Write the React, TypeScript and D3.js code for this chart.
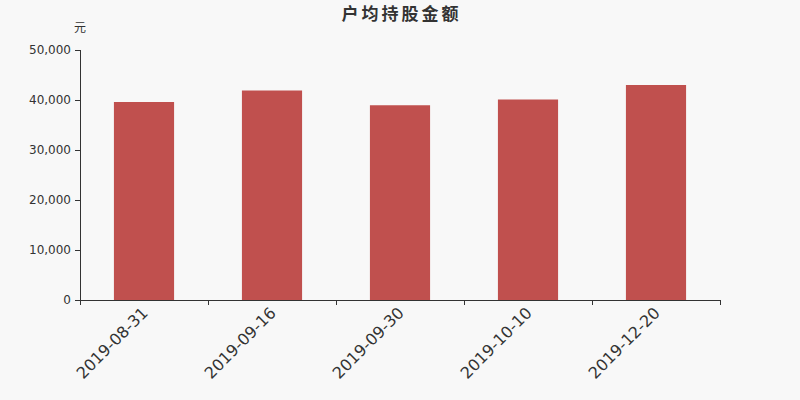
import * as d3 from "d3";
import { useEffect, useRef } from "react";

const categories = ["2019-08-31", "2019-09-16", "2019-09-30", "2019-10-10", "2019-12-20"];
const values = [39600, 41900, 38950, 40100, 43000];
const yTicks = [0, 10000, 20000, 30000, 40000, 50000];

const width = 800;
const height = 400;
const margin = { top: 50, right: 80, bottom: 100, left: 80 };

const App = () => {
  const svgRef = useRef<SVGSVGElement | null>(null);

  useEffect(() => {
    const svg = d3.select(svgRef.current);
    svg.selectAll("*").remove();

    const innerWidth = width - margin.left - margin.right;
    const innerHeight = height - margin.top - margin.bottom;

    svg.append("rect").attr("width", width).attr("height", height).attr("fill", "#f8f8f8");

    const x = d3.scaleBand().domain(categories).range([0, innerWidth]);
    const y = d3.scaleLinear().domain([0, 50000]).range([innerHeight, 0]);
    const barWidth = x.bandwidth() * 0.47;

    const g = svg.append("g").attr("transform", `translate(${margin.left},${margin.top})`);

    // bars
    g.selectAll("rect.bar")
      .data(values)
      .enter()
      .append("rect")
      .attr("class", "bar")
      .attr("x", (_, i) => (x(categories[i]) ?? 0) + x.bandwidth() / 2 - barWidth / 2)
      .attr("y", d => y(d))
      .attr("width", barWidth)
      .attr("height", d => innerHeight - y(d))
      .attr("fill", "#c0504e");

    // y axis
    const yAxis = g.append("g")
      .call(d3.axisLeft(y).tickValues(yTicks).tickSize(5).tickPadding(4).tickFormat(d3.format(",")));
    yAxis.select(".domain").attr("stroke", "#333").attr("d", `M0.5,0V${innerHeight}`);
    yAxis.selectAll(".tick line").attr("stroke", "#333");
    yAxis.selectAll(".tick text")
      .attr("fill", "#333")
      .style("font-family", "'DejaVu Sans', sans-serif")
      .style("font-size", "12px");

    // x axis
    const xAxis = g.append("g").attr("transform", `translate(0,${innerHeight})`);
    xAxis.append("path")
      .attr("d", `M0,0.5H${innerWidth}`)
      .attr("stroke", "#333");
    const bounds = categories.map(c => x(c) ?? 0).concat([innerWidth]);
    xAxis.selectAll("line.tk")
      .data(bounds)
      .enter()
      .append("line")
      .attr("class", "tk")
      .attr("x1", d => Math.round(d) + 0.5)
      .attr("x2", d => Math.round(d) + 0.5)
      .attr("y1", 0)
      .attr("y2", 5)
      .attr("stroke", "#333");
    xAxis.selectAll("text.lbl")
      .data(categories)
      .enter()
      .append("text")
      .attr("class", "lbl")
      .attr("transform", d => `translate(${(x(d) ?? 0) + x.bandwidth() / 2 + 1},${10}) rotate(-45)`)
      .attr("text-anchor", "end")
      .attr("dy", "0.35em")
      .attr("fill", "#333")
      .style("font-family", "'DejaVu Sans', sans-serif")
      .style("font-size", "16px")
      .text(d => d);

    // unit
    svg.append("text")
      .attr("x", margin.left)
      .attr("y", 32)
      .attr("text-anchor", "middle")
      .attr("fill", "#333")
      .style("font-family", "'Noto Sans CJK SC', sans-serif")
      .style("font-size", "12px")
      .text("元");

    // title
    svg.append("text")
      .attr("x", width / 2 + 1.5)
      .attr("y", 20)
      .attr("text-anchor", "middle")
      .attr("fill", "#333")
      .style("font-family", "'Noto Sans CJK SC', sans-serif")
      .style("font-size", "17px")
      .style("letter-spacing", "3px")
      .style("font-weight", "bold")
      .text("户均持股金额");
  }, []);

  return (
    <svg ref={svgRef} width={width} height={height}
      style={{ position: "absolute", left: 0, top: 0, display: "block" }}></svg>
  );
};

export default App;
